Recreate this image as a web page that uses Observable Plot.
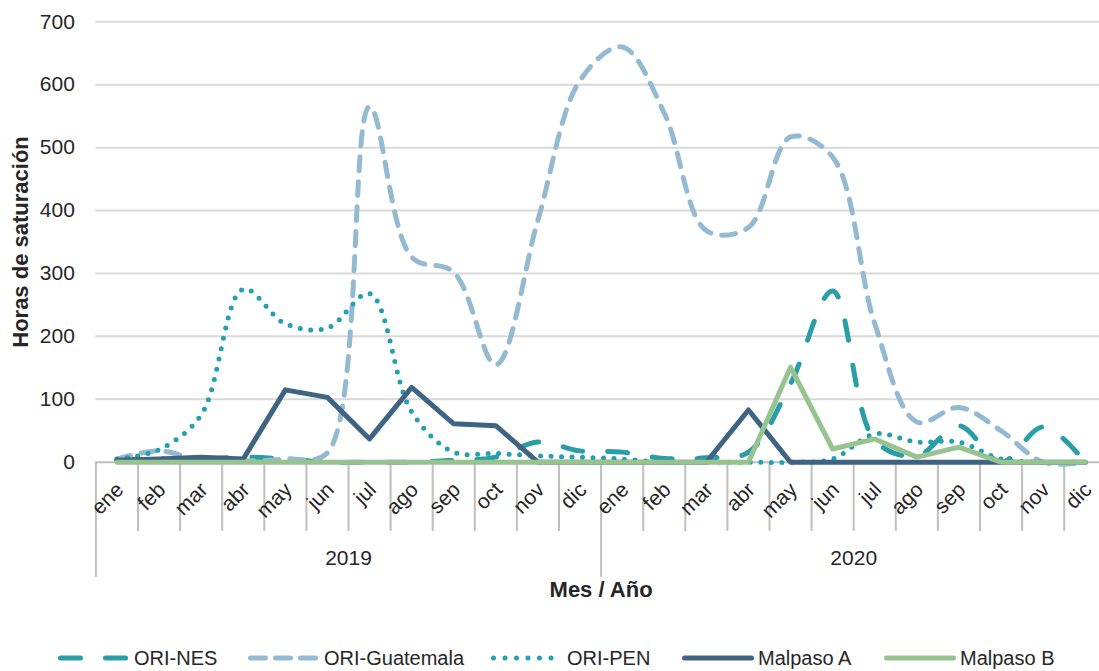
<!DOCTYPE html>
<html><head><meta charset="utf-8">
<script src="https://cdn.jsdelivr.net/npm/d3@7"></script>
<script src="https://cdn.jsdelivr.net/npm/@observablehq/plot@0.6"></script>
<style>
html,body{margin:0;padding:0;background:#fff;overflow:hidden;}
#wrap{width:1099px;height:671px;font-family:"Liberation Sans",Arial,sans-serif;color:#262626;}
#legend{position:relative;width:1099px;height:51px;}
#legend .item{position:absolute;top:23px;display:flex;align-items:center;height:30px;white-space:nowrap;}
#legend .item span{margin-left:4px;font-size:20px;line-height:30px;}
</style></head>
<body>
<div id="wrap"><div id="chart"></div><div id="legend"></div></div>
<script>
// ---- data ----
const years = ["2019", "2020"];
const months = ["ene","feb","mar","abr","may","jun","jul","ago","sep","oct","nov","dic"];
const yTicks = [0, 100, 200, 300, 400, 500, 600, 700];
const seriesNames = ["ORI-NES", "ORI-Guatemala", "ORI-PEN", "Malpaso A", "Malpaso B"];
const oriNES       = [3, 5, 5, 8, 5, 0, 0, 0, 3, 8, 32, 18,   16, 6, 7, 16, 125, 272, 35, 10, 58, 0, 56, 0];
const oriGuatemala = [5, 18, 3, 2, 5, 15, 565, 326, 302, 155, 385, 607,   660, 555, 368, 373, 517, 485, 220, 64, 87, 50, 0, 0];
const oriPEN       = [5, 20, 75, 275, 220, 213, 268, 80, 16, 14, 10, 8,   5, 0, 0, 0, 0, 5, 45, 32, 32, 5, 0, 0];
const malpasoA     = [3, 5, 8, 5, 115, 103, 37, 119, 61, 58, 0, 0,   0, 0, 0, 83, 0, 0, 0, 0, 0, 0, 0, 0];
const malpasoB     = [0, 0, 0, 0, 0, 0, 0, 0, 0, 0, 0, 0,   0, 0, 0, 0, 151, 21, 37, 8, 24, 0, 0, 0];
const yTitle = "Horas de saturación";
const xTitle = "Mes / Año";

// ---- styles ----
const styles = {
  "ORI-NES":       {color: "#2a9ea6", dash: "20 25", legendDash: "20 25", curve: "catmull-rom", left: 58},
  "ORI-Guatemala": {color: "#94bad2", dash: "14 11", legendDash: "15 10", curve: "catmull-rom", left: 248},
  "ORI-PEN":       {color: "#22a0b2", dash: "0 10.5", legendDash: "0 11.5", curve: "catmull-rom", left: 491},
  "Malpaso A":     {color: "#3e6383", dash: null, legendDash: null, curve: "linear", left: 682},
  "Malpaso B":     {color: "#97c48e", dash: null, legendDash: null, curve: "linear", left: 884}
};
const values = [oriNES, oriGuatemala, oriPEN, malpasoA, malpasoB];

const cats = [];
years.forEach((yr, yi) => months.forEach((m, mi) => cats.push({i: yi * months.length + mi, month: m, year: yr})));
const nCats = cats.length;
const boundaries = d3.range(nCats + 1).map(b => ({b: b - 0.5, major: b % months.length === 0}));
const yearRows = years.map((yr, yi) => ({year: yr, c: yi * months.length + (months.length - 1) / 2}));

const FONT = '"Liberation Sans",Arial,sans-serif';
const TXT = "#262626";

const lineMarks = seriesNames.map((name, si) => {
  const st = styles[name];
  const data = values[si].map((v, i) => ({i, v}));
  return Plot.line(data, {
    x: "i", y: "v", stroke: st.color, strokeWidth: 5,
    strokeDasharray: st.dash || undefined, strokeLinecap: "round", strokeLinejoin: "round",
    curve: st.curve
  });
});

const chart = Plot.plot({
  width: 1099, height: 620,
  marginTop: 21.3, marginBottom: 620 - 461.7, marginLeft: 95.4, marginRight: 0,
  x: {type: "linear", domain: [-0.5, nCats - 0.5], range: [95.4, 1105.8], axis: null},
  y: {domain: [0, 700], axis: null},
  style: {fontFamily: FONT, color: TXT, background: "#fff", overflow: "visible"},
  marks: [
    Plot.ruleY(yTicks.filter(d => d > 0), {stroke: "#d9d9d9", strokeWidth: 2}),
    Plot.ruleX(boundaries, {x: "b", y1: 0, y2: d => d.major ? -183 : -110, stroke: "#bfbfbf", strokeWidth: 2}),
    Plot.ruleY([0], {stroke: "#bfbfbf", strokeWidth: 2}),
    Plot.text(yTicks, {y: d => d, frameAnchor: "left", textAnchor: "end", dx: -21, fontSize: 21, fill: TXT}),
    Plot.text(cats, {x: "i", y: () => 0, text: "month", rotate: -45, textAnchor: "end", dx: 3, dy: 24, fontSize: 21, fill: TXT}),
    Plot.text(yearRows, {x: "c", y: () => 0, text: "year", dy: 96, fontSize: 21, fill: TXT}),
    Plot.text([xTitle], {x: () => (nCats - 1) / 2, y: () => 0, text: d => d, dy: 128, fontSize: 22, fontWeight: "bold", fill: TXT}),
    Plot.text([yTitle], {frameAnchor: "left", text: d => d, rotate: -90, textAnchor: "middle", dx: -75, fontSize: 22, fontWeight: "bold", fill: TXT}),
    ...lineMarks
  ]
});
document.getElementById("chart").appendChild(chart);

// ---- legend ----
const legend = document.getElementById("legend");
seriesNames.forEach(name => {
  const st = styles[name];
  const item = document.createElement("div");
  item.className = "item";
  item.style.left = st.left + "px";
  const w = 72;
  item.innerHTML = `<svg width="${w}" height="30"><line x1="2.5" x2="${w - 2.5}" y1="15" y2="15" stroke="${st.color}" stroke-width="5" stroke-linecap="round" ${st.legendDash ? `stroke-dasharray="${st.legendDash}"` : ""}/></svg><span>${name}</span>`;
  legend.appendChild(item);
});
</script>
</body></html>
